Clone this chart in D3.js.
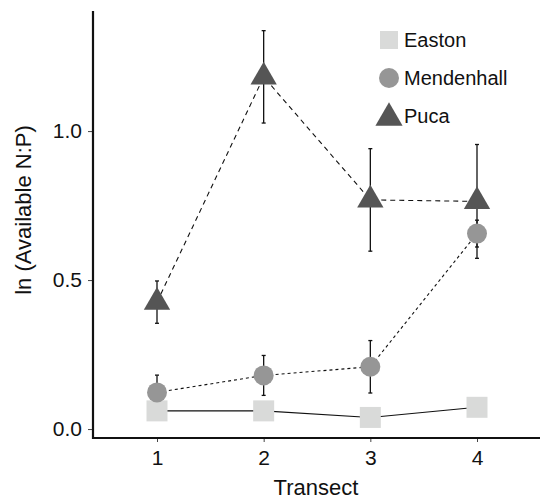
<!DOCTYPE html>
<html>
<head>
<meta charset="utf-8">
<script src="https://cdn.jsdelivr.net/npm/d3@7"></script>
<style>
  body { margin: 0; background: #fff; }
  svg { display: block; font-family: "Liberation Sans", Arial, sans-serif; }
</style>
</head>
<body>
<svg width="540" height="501"></svg>
<script>
// values
const transects = [1, 2, 3, 4];
const yTicks = [0.0, 0.5, 1.0];

const eastonMean = [0.061, 0.061, 0.039, 0.073];
const mendenhallMean = [0.123, 0.180, 0.209, 0.656];
const mendenhallErr = [0.058, 0.067, 0.088, 0.045];
const pucaMean = [0.426, 1.182, 0.769, 0.764];
const pucaErr = [0.071, 0.155, 0.172, 0.191];

const sites = [
    { name: "Easton", mean: eastonMean, err: null, color: "#d9dad9", shape: "square", dash: null },
    { name: "Mendenhall", mean: mendenhallMean, err: mendenhallErr, color: "#969696", shape: "circle", dash: "3,3" },
    { name: "Puca", mean: pucaMean, err: pucaErr, color: "#555555", shape: "triangle", dash: "5,4" }
];

const svg = d3.select("svg");

const x = d3.scaleLinear().domain([0.4, 4.6]).range([93, 541]);
const y = d3.scaleLinear().domain([-0.03, 1.403]).range([438, 11]);

// axes
const yAxis = d3.axisLeft(y).tickValues(yTicks).tickFormat(d3.format(".1f")).tickSize(5).tickPadding(6);
const xAxis = d3.axisBottom(x).tickValues(transects).tickFormat(d3.format("d")).tickSize(4).tickPadding(8);

const gy = svg.append("g").attr("transform", "translate(93,0)").call(yAxis);
const gx = svg.append("g").attr("transform", "translate(0,438)").call(xAxis);

[gy, gx].forEach(g => {
    g.select(".domain").remove();
    g.selectAll(".tick line").attr("stroke", "#444").attr("stroke-width", 1);
    g.selectAll(".tick text").attr("fill", "#111").style("font-size", "21px");
});

svg.append("line")
    .attr("x1", 93).attr("x2", 93).attr("y1", 11).attr("y2", 439)
    .attr("stroke", "#111").attr("stroke-width", 2.2);
svg.append("line")
    .attr("x1", 92).attr("x2", 540).attr("y1", 438).attr("y2", 438)
    .attr("stroke", "#111").attr("stroke-width", 2.2);

svg.append("text")
    .attr("x", 316).attr("y", 495)
    .attr("text-anchor", "middle")
    .style("font-size", "22px").attr("fill", "#111")
    .text("Transect");

svg.append("text")
    .attr("transform", "translate(31,210) rotate(-90)")
    .attr("text-anchor", "middle")
    .style("font-size", "22px").attr("fill", "#111")
    .text("ln (Available N:P)");

const symbol = {
    square: d3.symbol().type(d3.symbolSquare).size(441),
    circle: d3.symbol().type(d3.symbolCircle).size(Math.PI * 100),
    triangle: d3.symbol().type(d3.symbolTriangle).size(300)
};

const line = d3.line()
    .x((d, i) => x(transects[i]))
    .y(d => y(d));

// lines
sites.forEach(s => {
    svg.append("path")
        .datum(s.mean)
        .attr("d", line)
        .attr("fill", "none")
        .attr("stroke", "#111")
        .attr("stroke-width", 1.1)
        .attr("stroke-dasharray", s.dash);
});

// error bars
sites.filter(s => s.err).forEach(s => {
    const g = svg.append("g");
    s.mean.forEach((m, i) => {
        const cx = x(transects[i]);
        const top = y(m + s.err[i]), bot = y(m - s.err[i]);
        g.append("line").attr("x1", cx).attr("x2", cx).attr("y1", top).attr("y2", bot)
            .attr("stroke", "#111").attr("stroke-width", 1.3);
        [top, bot].forEach(v => {
            g.append("line").attr("x1", cx - 2).attr("x2", cx + 2).attr("y1", v).attr("y2", v)
                .attr("stroke", "#111").attr("stroke-width", 1.3);
        });
    });
});

// points
sites.forEach(s => {
    svg.append("g")
        .selectAll("path")
        .data(s.mean)
        .enter().append("path")
        .attr("d", symbol[s.shape])
        .attr("transform", (d, i) => "translate(" + x(transects[i]) + "," + y(d) + ")")
        .attr("fill", s.color);
});

// legend
const legend = svg.append("g").attr("transform", "translate(389,40)");
sites.forEach((s, i) => {
    const row = legend.append("g").attr("transform", "translate(0," + (i * 38) + ")");
    row.append("path")
        .attr("d", s.shape === "square" ? d3.symbol().type(d3.symbolSquare).size(324)()
            : s.shape === "triangle" ? d3.symbol().type(d3.symbolTriangle).size(320)()
            : symbol.circle())
        .attr("transform", s.shape === "triangle" ? "translate(0,2)" : null)
        .attr("fill", s.color);
    row.append("text")
        .attr("x", 15).attr("y", 7)
        .style("font-size", "20px").attr("fill", "#111")
        .text(s.name);
});
</script>
</body>
</html>
